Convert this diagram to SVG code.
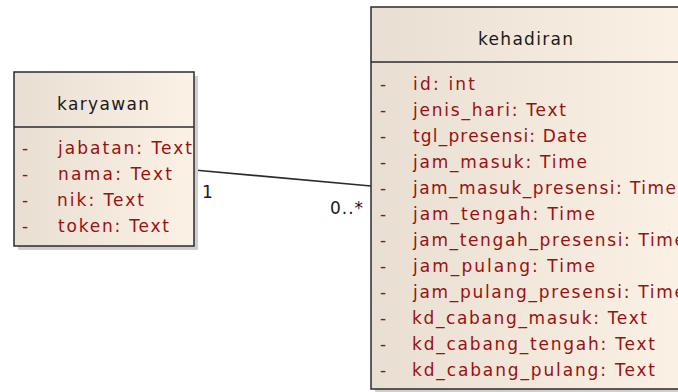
<svg xmlns="http://www.w3.org/2000/svg" width="678" height="392" viewBox="0 0 678 392">
<style>
.box{stroke:#2b2b2b;stroke-width:1.5;fill:url(#g)}
.shadow{fill:#cfcfcf}
.title{font-family:"DejaVu Sans","Liberation Sans",Arial,sans-serif;font-size:17px;fill:#1a1a1a}
.attr{font-family:"DejaVu Sans","Liberation Sans",Arial,sans-serif;font-size:17px;fill:#9a1010}
.lbl{font-family:"DejaVu Sans","Liberation Sans",Arial,sans-serif;font-size:17px;fill:#1a1a1a}
.conn{stroke:#2b2b2b;stroke-width:1.6;fill:none}
</style>
<defs>
<linearGradient id="g" x1="0" y1="0" x2="1" y2="0">
<stop offset="0" stop-color="#e8dfd2"/>
<stop offset="1" stop-color="#fbf1e4"/>
</linearGradient>
</defs>
<rect width="678" height="392" fill="#ffffff"/>
<g id="connectors">
<line class="conn" x1="194" y1="170" x2="371" y2="186"/>
<text class="lbl" x="202" y="198">1</text>
<text class="lbl" x="330" y="214" textLength="33" lengthAdjust="spacing">0..*</text>
</g>
<g id="karyawan">
<rect class="shadow" x="18" y="76" width="180" height="174"/>
<rect class="box" x="14" y="72" width="180" height="174"/>
<line x1="14" y1="127" x2="194" y2="127" stroke="#2b2b2b" stroke-width="1.5"/>
<text class="title" x="57" y="110" textLength="92" lengthAdjust="spacing">karyawan</text>
<text class="attr" x="22" y="154">-</text>
<text class="attr" x="58" y="154" textLength="134" lengthAdjust="spacing">jabatan: Text</text>
<text class="attr" x="22" y="180">-</text>
<text class="attr" x="58" y="180" textLength="114" lengthAdjust="spacing">nama: Text</text>
<text class="attr" x="22" y="206">-</text>
<text class="attr" x="57" y="206" textLength="87" lengthAdjust="spacing">nik: Text</text>
<text class="attr" x="22" y="232">-</text>
<text class="attr" x="58" y="232" textLength="111" lengthAdjust="spacing">token: Text</text>
</g>
<g id="kehadiran">
<rect class="shadow" x="375" y="11" width="320" height="390"/>
<rect class="box" x="371" y="7" width="320" height="382"/>
<line x1="371" y1="62" x2="691" y2="62" stroke="#2b2b2b" stroke-width="1.5"/>
<text class="title" x="478" y="45" textLength="95" lengthAdjust="spacing">kehadiran</text>
<text class="attr" x="380" y="90">-</text>
<text class="attr" x="413" y="90" textLength="62" lengthAdjust="spacing">id: int</text>
<text class="attr" x="380" y="116">-</text>
<text class="attr" x="413" y="116" textLength="153" lengthAdjust="spacing">jenis_hari: Text</text>
<text class="attr" x="380" y="142">-</text>
<text class="attr" x="413" y="142" textLength="174" lengthAdjust="spacing">tgl_presensi: Date</text>
<text class="attr" x="380" y="168">-</text>
<text class="attr" x="413" y="168" textLength="174" lengthAdjust="spacing">jam_masuk: Time</text>
<text class="attr" x="380" y="194">-</text>
<text class="attr" x="413" y="194" textLength="263" lengthAdjust="spacing">jam_masuk_presensi: Time</text>
<text class="attr" x="380" y="220">-</text>
<text class="attr" x="413" y="220" textLength="182" lengthAdjust="spacing">jam_tengah: Time</text>
<text class="attr" x="380" y="246">-</text>
<text class="attr" x="413" y="246" textLength="272" lengthAdjust="spacing">jam_tengah_presensi: Time</text>
<text class="attr" x="380" y="272">-</text>
<text class="attr" x="413" y="272" textLength="182" lengthAdjust="spacing">jam_pulang: Time</text>
<text class="attr" x="380" y="298">-</text>
<text class="attr" x="413" y="298" textLength="272" lengthAdjust="spacing">jam_pulang_presensi: Time</text>
<text class="attr" x="380" y="324">-</text>
<text class="attr" x="412" y="324" textLength="235" lengthAdjust="spacing">kd_cabang_masuk: Text</text>
<text class="attr" x="380" y="350">-</text>
<text class="attr" x="412" y="350" textLength="243" lengthAdjust="spacing">kd_cabang_tengah: Text</text>
<text class="attr" x="380" y="376">-</text>
<text class="attr" x="412" y="376" textLength="243" lengthAdjust="spacing">kd_cabang_pulang: Text</text>
</g>
</svg>
